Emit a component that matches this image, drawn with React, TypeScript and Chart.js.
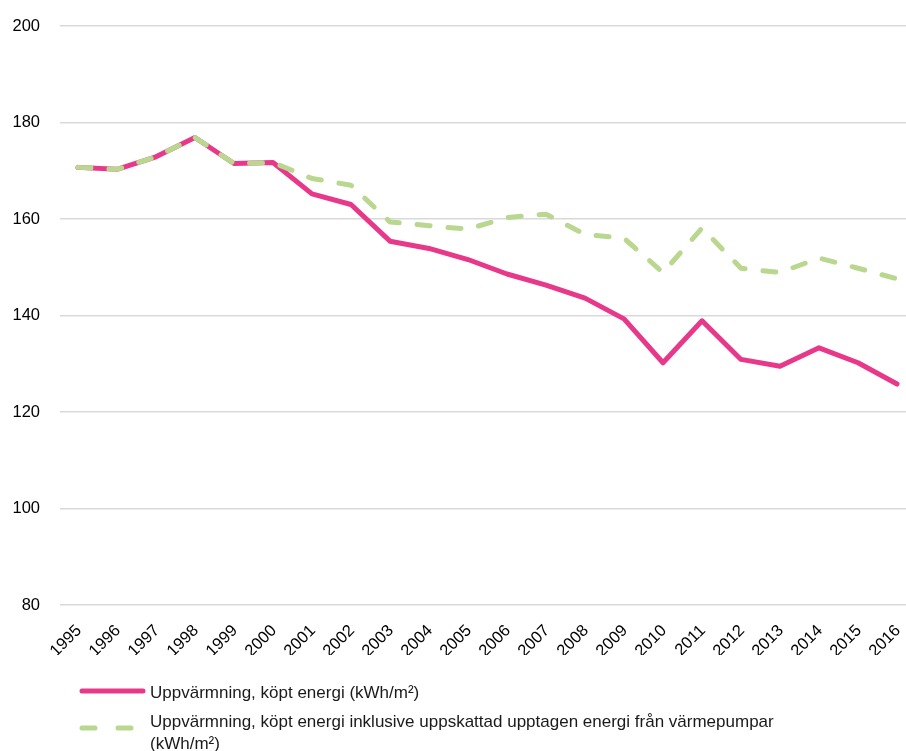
import React, { useEffect, useRef } from "react";
import { Chart, registerables } from "chart.js";

Chart.register(...registerables);

const years = [1995, 1996, 1997, 1998, 1999, 2000, 2001, 2002, 2003, 2004, 2005, 2006, 2007, 2008, 2009, 2010, 2011, 2012, 2013, 2014, 2015, 2016];
const purchased = [170.7, 170.3, 172.9, 176.9, 171.5, 171.7, 165.2, 163.0, 155.4, 153.9, 151.6, 148.6, 146.3, 143.6, 139.3, 130.2, 138.9, 130.9, 129.5, 133.3, 130.2, 125.8];
const withHeatPumps = [170.7, 170.3, 172.9, 176.9, 171.5, 171.7, 168.4, 167.0, 159.4, 158.6, 157.9, 160.3, 161.0, 156.8, 156.0, 148.9, 158.1, 149.8, 148.9, 151.9, 149.8, 147.6];
const yTicks = [80, 100, 120, 140, 160, 180, 200];
const seriesNames = [
  "Uppvärmning, köpt energi (kWh/m²)",
  "Uppvärmning, köpt energi inklusive uppskattad upptagen energi från värmepumpar (kWh/m²)",
];

const PINK = "#E8388A";
const GREEN = "#B9D78F";
const FONT = "'Liberation Sans', Arial, sans-serif";

export default function App() {
  const ref = useRef<HTMLCanvasElement | null>(null);

  useEffect(() => {
    if (!ref.current) return;
    const chart = new Chart(ref.current, {
      type: "line",
      data: {
        datasets: [
          {
            label: seriesNames[0],
            data: years.map((y, i) => ({ x: y, y: purchased[i] })),
            borderColor: PINK,
            backgroundColor: PINK,
            borderWidth: 5,
            pointRadius: 0,
            tension: 0,
            borderJoinStyle: "round",
            borderCapStyle: "round",
            order: 1,
          },
          {
            label: seriesNames[1],
            data: years.map((y, i) => ({ x: y, y: withHeatPumps[i] })),
            borderColor: GREEN,
            backgroundColor: GREEN,
            borderWidth: 5,
            borderDash: [13, 18],
            borderCapStyle: "round",
            borderJoinStyle: "round",
            pointRadius: 0,
            tension: 0,
            order: 0,
          },
        ],
      },
      options: {
        responsive: false,
        animation: false,
        layout: { padding: { left: 11, right: 0, top: 26, bottom: 0 } },
        plugins: { legend: { display: false }, tooltip: { enabled: false } },
        scales: {
          x: {
            type: "linear",
            min: 1994.54,
            max: 2016.23,
            grid: { display: false },
            border: { display: false },
            afterBuildTicks: (axis: any) => {
              axis.ticks = years.map((v) => ({ value: v }));
            },
            afterFit: (axis: any) => {
              axis.paddingRight = 0;
              axis.paddingLeft = 0;
              axis.height = 50;
            },
            ticks: {
              stepSize: 1,
              includeBounds: false,
              autoSkip: false,
              maxRotation: 45,
              minRotation: 45,
              labelOffset: 1,
              padding: 8,
              color: "#000",
              font: { family: FONT, size: 16.5 },
              callback: (v: any) => String(v),
            },
          },
          y: {
            min: 80,
            max: 200,
            afterBuildTicks: (axis: any) => {
              axis.ticks = yTicks.map((v) => ({ value: v }));
            },
            grid: { color: "#D9D9D9", lineWidth: 1.5, drawTicks: false },
            border: { display: false },
            afterFit: (axis: any) => {
              axis.width = 49;
              axis.paddingTop = 0;
              axis.paddingBottom = 0;
            },
            ticks: {
              padding: 20,
              color: "#000",
              font: { family: FONT, size: 16.5 },
              callback: (v: any) => String(v),
            },
          },
        },
      },
    });
    return () => chart.destroy();
  }, []);

  const textStyle: React.CSSProperties = {
    position: "absolute",
    left: 150,
    fontFamily: FONT,
    fontSize: 17,
    lineHeight: "22px",
    color: "#1a1a1a",
    width: 650,
  };

  return (
    <div style={{ position: "absolute", left: 0, top: 0, width: 906, height: 751, overflow: "hidden", background: "#fff" }}>
      <canvas ref={ref} width={906} height={655} style={{ position: "absolute", left: 0, top: 0, width: 906, height: 655 }} />
      <svg width={906} height={751} style={{ position: "absolute", left: 0, top: 0, pointerEvents: "none" }}>
        <line x1={82} y1={691} x2={143} y2={691} stroke={PINK} strokeWidth={5} strokeLinecap="round" />
        <line x1={82} y1={728} x2={140} y2={728} stroke={GREEN} strokeWidth={5} strokeLinecap="round" strokeDasharray="13 23" />
      </svg>
      <div style={{ ...textStyle, top: 682 }}>{seriesNames[0]}</div>
      <div style={{ ...textStyle, top: 711 }}>{seriesNames[1]}</div>
    </div>
  );
}
